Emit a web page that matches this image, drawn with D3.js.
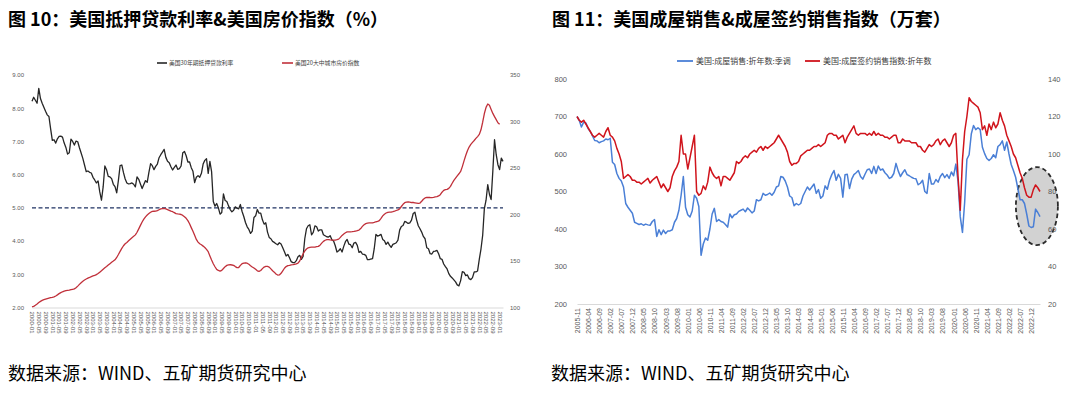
<!DOCTYPE html>
<html>
<head>
<meta charset="utf-8">
<script src="https://cdn.jsdelivr.net/npm/d3@7"></script>
<style>
body { margin: 0; background: #fff; }
svg { display: block; font-family: "Liberation Sans", Arial, sans-serif; }
</style>
</head>
<body>
<svg id="chart" width="1080" height="397"></svg>
<script>
// ---- left chart data (monthly, from 2000-01) ----
var mortgageRate = [
  8.21, 8.33, 8.24, 8.15, 8.60, 8.29, 8.15, 8.03, 7.91, 7.80, 7.75, 7.38,
  7.03, 7.05, 6.95, 7.08, 7.15, 7.16, 7.13, 6.95, 6.82, 6.62, 6.66, 7.07,
  7.00, 6.89, 7.01, 6.99, 6.81, 6.65, 6.49, 6.29, 6.09, 6.11, 6.07, 6.05,
  5.92, 5.84, 5.75, 5.81, 5.48, 5.23, 5.63, 6.26, 6.15, 5.95, 5.93, 5.88,
  5.71, 5.64, 5.45, 5.83, 6.27, 6.29, 6.06, 5.87, 5.75, 5.72, 5.73, 5.75,
  5.71, 5.63, 5.93, 5.86, 5.72, 5.58, 5.70, 5.82, 5.77, 6.07, 6.33, 6.27,
  6.15, 6.25, 6.32, 6.51, 6.60, 6.68, 6.76, 6.52, 6.40, 6.36, 6.24, 6.14,
  6.22, 6.29, 6.16, 6.18, 6.26, 6.66, 6.70, 6.57, 6.38, 6.38, 6.21, 6.10,
  5.76, 5.92, 5.97, 5.92, 6.04, 6.32, 6.43, 6.48, 6.04, 6.40, 6.09, 5.19,
  5.05, 5.13, 5.00, 4.81, 4.86, 5.42, 5.22, 5.19, 5.06, 4.95, 4.88, 4.93,
  5.03, 4.99, 4.97, 5.10, 4.89, 4.74, 4.56, 4.43, 4.35, 4.23, 4.30, 4.71,
  4.76, 4.95, 4.84, 4.84, 4.64, 4.51, 4.55, 4.27, 4.11, 4.07, 3.99, 3.96,
  3.92, 3.89, 3.95, 3.91, 3.80, 3.68, 3.55, 3.60, 3.50, 3.38, 3.35, 3.35,
  3.41, 3.53, 3.57, 3.45, 3.54, 4.07, 4.37, 4.46, 4.49, 4.19, 4.26, 4.46,
  4.43, 4.30, 4.34, 4.34, 4.19, 4.16, 4.13, 4.12, 4.16, 4.04, 4.00, 3.86,
  3.67, 3.71, 3.77, 3.67, 3.84, 3.98, 4.05, 3.91, 3.89, 3.80, 3.94, 3.96,
  3.87, 3.66, 3.69, 3.61, 3.60, 3.57, 3.44, 3.44, 3.46, 3.47, 3.77, 4.20,
  4.15, 4.17, 4.20, 4.05, 4.01, 3.90, 3.97, 3.88, 3.81, 3.90, 3.92, 3.95,
  4.03, 4.33, 4.44, 4.47, 4.59, 4.57, 4.53, 4.55, 4.63, 4.83, 4.87, 4.64,
  4.46, 4.37, 4.27, 4.14, 4.07, 3.80, 3.77, 3.62, 3.61, 3.69, 3.70, 3.72,
  3.62, 3.47, 3.45, 3.31, 3.23, 3.16, 3.02, 2.94, 2.89, 2.83, 2.77, 2.68,
  2.65, 2.81, 3.08, 3.06, 2.96, 2.98, 2.87, 2.84, 2.90, 3.07, 3.07, 3.10,
  3.45, 3.76, 4.17, 4.98, 5.23, 5.70, 5.41, 5.25, 6.11, 7.05, 6.60, 6.30,
  6.15, 6.50, 6.40
];
var priceIndex = [
  100.6, 101.2, 102.4, 103.8, 105.3, 106.6, 107.6, 108.4, 109.0, 109.6, 110.1, 110.6,
  111.0, 111.5, 112.4, 113.6, 114.9, 116.0, 116.9, 117.6, 118.1, 118.4, 118.7, 119.2,
  119.6, 120.0, 121.2, 123.0, 124.9, 126.7, 128.3, 129.6, 130.6, 131.5, 132.3, 133.2,
  133.9, 134.5, 135.4, 136.5, 138.0, 139.5, 141.1, 142.7, 144.1, 145.6, 147.1, 148.6,
  149.9, 151.3, 153.8, 157.0, 160.4, 163.6, 166.4, 168.5, 170.0, 171.7, 173.4, 175.1,
  176.5, 178.1, 180.9, 184.5, 188.3, 191.9, 195.0, 197.5, 199.5, 201.0, 202.4, 203.3,
  203.5, 203.7, 204.2, 205.1, 206.0, 206.4, 206.5, 206.1, 205.3, 204.5, 203.6, 203.0,
  202.0, 200.9, 200.6, 200.4, 200.0, 199.0, 197.6, 195.9, 193.4, 190.0, 185.9, 182.0,
  177.6, 173.2, 170.3, 168.5, 167.4, 166.0, 164.5, 162.5, 160.0, 155.5, 151.0, 147.0,
  143.8, 141.0, 139.8, 139.2, 140.0, 141.9, 143.9, 145.3, 145.9, 146.0, 145.7, 145.3,
  144.0, 142.9, 143.0, 145.3, 147.1, 147.8, 148.1, 147.6, 146.5, 145.0, 143.6, 142.5,
  141.0, 139.5, 138.9, 139.8, 141.8, 143.5, 144.3, 144.2, 143.4, 141.5, 139.5, 138.0,
  136.0, 134.9, 135.0, 136.8, 139.5, 142.2, 144.0, 145.0, 145.4, 145.9, 146.0, 146.5,
  146.9, 147.8, 150.0, 153.9, 157.5, 160.8, 162.9, 164.2, 164.7, 164.9, 164.9, 165.0,
  165.4, 165.7, 167.0, 169.2, 171.1, 172.3, 173.0, 173.0, 172.7, 172.5, 172.4, 172.5,
  172.9, 173.5, 175.4, 177.5, 179.1, 180.4, 181.3, 181.4, 181.4, 181.5, 181.8, 182.2,
  182.6, 183.3, 184.9, 187.2, 189.0, 190.2, 190.8, 191.0, 190.9, 191.0, 191.5, 192.2,
  192.6, 193.5, 195.9, 198.5, 200.3, 201.6, 202.3, 202.5, 202.6, 203.0, 203.6, 204.3,
  205.0, 206.1, 208.6, 211.0, 212.7, 213.4, 213.6, 213.4, 212.9, 212.9, 212.6, 212.3,
  212.0, 212.3, 214.3, 216.4, 217.8, 218.3, 218.5, 218.3, 218.2, 218.5, 218.9, 219.2,
  220.0, 221.3, 224.0, 225.9, 226.8, 227.0, 228.1, 230.3, 233.6, 236.6, 239.1, 241.6,
  243.8, 246.3, 251.5, 257.6, 263.4, 268.5, 272.5, 275.3, 277.6, 279.6, 281.8, 283.8,
  286.1, 291.1, 299.2, 308.6, 315.2, 318.8, 317.4, 313.0, 308.7, 305.3, 302.0, 298.6,
  297.0
];
var leftXLabels = ["2000-01","2000-05","2000-09","2001-01","2001-05","2001-09","2002-01","2002-05","2002-09",
  "2003-01","2003-05","2003-09","2004-01","2004-05","2004-09","2005-01","2005-05","2005-09","2006-01","2006-05",
  "2006-09","2007-01","2007-05","2007-09","2008-01","2008-05","2008-09","2009-01","2009-05","2009-09","2010-01",
  "2010-05","2010-09","2011-01","2011-05","2011-09","2012-01","2012-05","2012-09","2013-01","2013-05","2013-09",
  "2014-01","2014-05","2014-09","2015-01","2015-05","2015-09","2016-01","2016-05","2016-09","2017-01","2017-05",
  "2017-09","2018-01","2018-05","2018-09","2019-01","2019-05","2019-09","2020-01","2020-05","2020-09","2021-01",
  "2021-05","2021-09","2022-01","2022-05","2022-09","2023-01"];
var leftYTicks = [2, 3, 4, 5, 6, 7, 8, 9];
var leftY2Ticks = [100, 150, 200, 250, 300, 350];
var rateRefLine = 5;

// ---- right chart data (monthly, from 2005-11) ----
var existingSales = [
  700, 690,
  672, 685, 683, 668, 660, 648, 636, 635, 630, 633, 635, 640,
  638, 642, 578, 572, 548, 535, 528, 512, 468, 458, 450, 442,
  418, 415, 412, 414, 410, 413, 411, 410, 420, 425, 380, 398,
  385, 397, 388, 395, 395, 398, 418, 428, 450, 490, 540, 458,
  438, 432, 448, 490, 482, 460, 330, 360, 376, 370, 400, 440,
  455, 420, 425, 420, 418, 412, 405, 440, 430, 438, 440, 447,
  450, 453, 446, 456, 450, 443, 448, 478, 475, 478, 495, 490,
  492, 496, 490, 498, 512, 515, 540, 538, 528, 512, 488, 484,
  462, 468, 464, 468, 488, 500, 512, 504, 512, 520, 495, 505,
  482, 488, 515, 506, 530, 545, 556, 530, 546, 535, 485, 545,
  546, 508, 533, 545, 550, 556, 540, 533, 546, 558, 560, 548,
  567, 548, 568, 557, 560, 550, 544, 535, 538, 548, 575, 555,
  540, 550, 558, 545, 542, 538, 535, 534, 518, 522, 530, 500,
  495, 548, 520, 520, 532, 525, 540, 548, 537, 545, 535, 552,
  542, 573, 527, 433, 391, 472, 586, 598, 654, 676, 665, 670,
  665, 618, 601, 588, 583, 588, 598, 590, 620, 625, 635, 610,
  632, 600, 572, 556, 538, 508, 478, 478, 468, 440, 408, 404,
  406, 453, 444, 433
];
var pendingIndex = [
  120, 118,
  117, 118, 116, 114, 112, 110, 109, 110, 111, 110, 109, 112,
  114, 110, 109, 107, 103, 100, 96, 87, 88, 89, 88, 86,
  86, 85, 85, 84, 85, 86, 87, 84.5, 86, 87, 88, 85,
  82, 84, 82, 80, 82, 88, 91, 93, 96, 110, 100, 100,
  92, 98, 104, 110, 80, 78, 79, 83, 81, 85, 93, 90,
  88, 87, 88, 83, 88, 88, 87, 86, 88, 90, 96, 95,
  96, 98, 99, 98, 100, 101, 102, 101, 103, 104, 102, 104,
  103, 104, 105, 106, 108, 110, 108, 106, 104, 101, 96, 94,
  95, 95, 96, 99, 100, 101, 102, 102, 103, 104, 104, 105,
  104, 105, 106, 110, 111, 111, 110, 110, 108, 109, 110, 106,
  109, 111, 113, 115, 111, 110, 111, 111, 111, 110, 111, 110,
  112, 110, 111, 110, 110, 109, 109, 108, 109, 110, 110, 106,
  106, 108, 107, 107, 107, 106, 106, 106, 104, 104, 102, 101,
  103, 105, 104, 105, 107, 108, 105, 107, 108, 106, 104, 106,
  110, 111, 88, 70, 97, 112, 120, 130, 128, 127, 126, 125,
  122, 113, 115, 110, 116, 113, 117, 114, 116, 122, 118, 115,
  110, 107, 104, 100, 98, 94, 90, 87, 82, 78, 77, 77,
  81, 83.5, 82, 80
];
var rightXLabels = ["2005-11","2006-04","2006-09","2007-02","2007-07","2007-12","2008-05","2008-10","2009-03",
  "2009-08","2010-01","2010-06","2010-11","2011-04","2011-09","2012-02","2012-07","2012-12","2013-05","2013-10",
  "2014-03","2014-08","2015-01","2015-06","2015-11","2016-04","2016-09","2017-02","2017-07","2017-12","2018-05",
  "2018-10","2019-03","2019-08","2020-01","2020-06","2020-11","2021-04","2021-09","2022-02","2022-07","2022-12"];
var rightYTicks = [200, 300, 400, 500, 600, 700, 800];
var rightY2Ticks = [20, 40, 60, 80, 100, 120, 140];

var titles = ["图 10：美国抵押贷款利率&美国房价指数（%）", "图 11：美国成屋销售&成屋签约销售指数（万套）"];
var source = "数据来源：WIND、五矿期货研究中心";
var leftLegend = ["美国30年期抵押贷款利率", "美国20大中城市房价指数"];
var rightLegend = ["美国:成屋销售:折年数:季调", "美国:成屋签约销售指数:折年数"];

var cjk = '"Noto Sans CJK SC", sans-serif';
var tickColor = "#595959";
var svg = d3.select("#chart");
svg.append("rect").attr("width", 1080).attr("height", 397).attr("fill", "#fff");

function monthIndex(label, y0, m0) {
  var p = label.split("-");
  return (+p[0] - y0) * 12 + (+p[1] - m0);
}

// ---------------- left chart ----------------
var xL = d3.scaleLinear().domain([0, mortgageRate.length - 1]).range([32, 503]);
var yL = d3.scaleLinear().domain([2, 9]).range([307.5, 75]);
var yL2 = d3.scaleLinear().domain([100, 350]).range([307.5, 75]);

var axL = svg.append("g").attr("transform", "translate(32,0)")
  .call(d3.axisLeft(yL).tickValues(leftYTicks).tickFormat(d3.format(".2f")).tickSize(0).tickPadding(8));
axL.select(".domain").remove();
axL.selectAll("text").attr("fill", tickColor).style("font-size", "6px");

var axL2 = svg.append("g").attr("transform", "translate(503,0)")
  .call(d3.axisRight(yL2).tickValues(leftY2Ticks).tickSize(0).tickPadding(7));
axL2.select(".domain").remove();
axL2.selectAll("text").attr("fill", tickColor).style("font-size", "6px");

var axLx = svg.append("g").attr("transform", "translate(0," + yL(2) + ")")
  .call(d3.axisBottom(xL)
    .tickValues(leftXLabels.map(function (d) { return monthIndex(d, 2000, 1); }))
    .tickFormat(function (d, i) { return leftXLabels[i]; })
    .tickSize(0));
axLx.select(".domain").attr("stroke", "#d9d9d9");
axLx.selectAll("text").attr("fill", tickColor).style("font-size", "6px")
  .attr("y", 0).attr("x", 4).attr("dy", "0.35em")
  .attr("transform", "rotate(90)").style("text-anchor", "start");

svg.append("line")
  .attr("x1", xL(0)).attr("x2", xL(mortgageRate.length - 1))
  .attr("y1", yL(rateRefLine)).attr("y2", yL(rateRefLine))
  .attr("stroke", "#1f3263").attr("stroke-width", 1.4).attr("stroke-dasharray", "4,2.5");

var lineRate = d3.line().x(function (d, i) { return xL(i); }).y(function (d) { return yL(d); });
var linePrice = d3.line().x(function (d, i) { return xL(i); }).y(function (d) { return yL2(d); });

svg.append("path").datum(mortgageRate).attr("d", lineRate)
  .attr("fill", "none").attr("stroke", "#262626").attr("stroke-width", 1.3).attr("stroke-linejoin", "round");
svg.append("path").datum(priceIndex).attr("d", linePrice)
  .attr("fill", "none").attr("stroke", "#c0303a").attr("stroke-width", 1.3).attr("stroke-linejoin", "round");

var legL = svg.append("g").attr("class", "legend");
legL.selectAll("line").data(["#262626", "#c0303a"]).enter().append("line")
  .attr("x1", function (d, i) { return [157, 282][i]; })
  .attr("x2", function (d, i) { return [167, 293][i]; })
  .attr("y1", 63).attr("y2", 63)
  .attr("stroke", function (d) { return d; }).attr("stroke-width", 1.6);
legL.selectAll("text").data(leftLegend).enter().append("text")
  .attr("x", function (d, i) { return [169, 295][i]; })
  .attr("y", 65).text(function (d) { return d; })
  .attr("fill", "#404040").style("font-family", cjk).style("font-size", "5.8px");

// ---------------- right chart ----------------
var xR = d3.scaleLinear().domain([0, existingSales.length - 1]).range([577, 1040]);
var yR = d3.scaleLinear().domain([200, 800]).range([304, 79]);
var yR2 = d3.scaleLinear().domain([20, 140]).range([304, 79]);

// highlight around latest readings (behind lines and labels)
svg.append("ellipse")
  .attr("cx", xR(207.6)).attr("cy", yR(461)).attr("rx", 21).attr("ry", 39)
  .attr("fill", "#d2d2d2")
  .attr("stroke", "#2b2b2b").attr("stroke-width", 1.8).attr("stroke-dasharray", "4.5,3");

var axR = svg.append("g").attr("transform", "translate(577,0)")
  .call(d3.axisLeft(yR).tickValues(rightYTicks).tickSize(0).tickPadding(10));
axR.select(".domain").remove();
axR.selectAll("text").attr("fill", tickColor).style("font-size", "7.5px");

var axR2 = svg.append("g").attr("transform", "translate(1041,0)")
  .call(d3.axisRight(yR2).tickValues(rightY2Ticks).tickSize(0).tickPadding(7));
axR2.select(".domain").remove();
axR2.selectAll("text").attr("fill", tickColor).style("font-size", "7.5px");

var axRx = svg.append("g").attr("transform", "translate(0," + yR(200) + ")")
  .call(d3.axisBottom(xR)
    .tickValues(rightXLabels.map(function (d) { return monthIndex(d, 2005, 11); }))
    .tickFormat(function (d, i) { return rightXLabels[i]; })
    .tickSize(0));
axRx.select(".domain").attr("stroke", "#d9d9d9");
axRx.selectAll("text").attr("fill", tickColor).style("font-size", "7px")
  .attr("y", 0).attr("x", -4).attr("dy", "0.35em")
  .attr("transform", "rotate(-90)").style("text-anchor", "end");

var lineSales = d3.line().x(function (d, i) { return xR(i); }).y(function (d) { return yR(d); });
var linePending = d3.line().x(function (d, i) { return xR(i); }).y(function (d) { return yR2(d); });

svg.append("path").datum(existingSales).attr("d", lineSales)
  .attr("fill", "none").attr("stroke", "#4a7fd6").attr("stroke-width", 1.5).attr("stroke-linejoin", "round");
svg.append("path").datum(pendingIndex).attr("d", linePending)
  .attr("fill", "none").attr("stroke", "#d0141c").attr("stroke-width", 1.5).attr("stroke-linejoin", "round");

var legR = svg.append("g").attr("class", "legend");
legR.selectAll("line").data(["#4a7fd6", "#d0141c"]).enter().append("line")
  .attr("x1", function (d, i) { return [677, 805][i]; })
  .attr("x2", function (d, i) { return [693, 820][i]; })
  .attr("y1", 61).attr("y2", 61)
  .attr("stroke", function (d) { return d; }).attr("stroke-width", 1.8);
legR.selectAll("text").data(rightLegend).enter().append("text")
  .attr("x", function (d, i) { return [696, 823][i]; })
  .attr("y", 64).text(function (d) { return d; })
  .attr("fill", "#404040").style("font-family", cjk).style("font-size", "8px");

// ---------------- titles & source ----------------
svg.selectAll(".title").data(titles).enter().append("text").attr("class", "title")
  .attr("x", function (d, i) { return [8, 552][i]; }).attr("y", 26)
  .text(function (d) { return d; })
  .style("font-family", cjk).style("font-weight", "bold").style("font-size", "18px").attr("fill", "#000");

svg.selectAll(".source").data([8, 551]).enter().append("text").attr("class", "source")
  .attr("x", function (d) { return d; }).attr("y", 380)
  .text(source)
  .style("font-family", cjk).style("font-size", "18px").attr("fill", "#000");
</script>
</body>
</html>
